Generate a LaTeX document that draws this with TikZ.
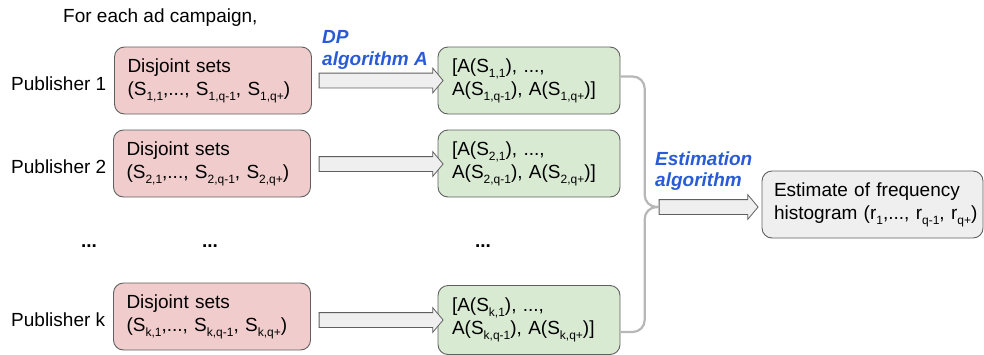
\documentclass[tikz,border=0pt]{standalone}
\usepackage{fontspec}
\setmainfont{Liberation Sans}
\usetikzlibrary{shapes.arrows,calc}
\definecolor{pinkfill}{HTML}{F0CCCC}
\definecolor{greenfill}{HTML}{D9EAD3}
\definecolor{grayfill}{HTML}{EFEFEF}
\definecolor{boxline}{HTML}{5F5F5F}
\definecolor{connline}{HTML}{B7B7B7}
\definecolor{labelblue}{HTML}{2A5BD7}
\newcommand\sbx[1]{\raisebox{-5pt}{\fontsize{12}{12}\selectfont #1}}
\tikzset{
  txt/.style={font=\fontsize{19}{23}\selectfont, inner sep=0pt},
  blue label/.style={txt, anchor=base west, text=labelblue, font=\fontsize{19}{23}\selectfont\bfseries\itshape},
  boxbase/.style={txt, draw=boxline, line width=0.9pt, rounded corners=10pt, align=left, inner xsep=0pt},
  pinkbox/.style={boxbase, fill=pinkfill, minimum width=197pt, minimum height=67pt, text width=171pt},
  greenbox/.style={boxbase, fill=greenfill, minimum width=182pt, minimum height=67pt, text width=154pt},
  graybox/.style={boxbase, fill=grayfill, minimum width=221pt, minimum height=67pt, text width=197pt},
  blockarrow/.style={single arrow, draw=boxline, fill=grayfill, line width=0.8pt, inner xsep=0pt, inner ysep=7pt, single arrow head extend=5pt, single arrow tip angle=100},
  conn/.style={draw=connline, line width=2.2pt, rounded corners=12pt},
  dots/.style={txt, anchor=base, font=\fontsize{19}{23}\selectfont\bfseries},
}
\begin{document}
\begin{tikzpicture}[x=1pt,y=-1pt]
\useasboundingbox (0,0) rectangle (984,354);

\node[txt, anchor=base west] (title) at (63,22) {For each ad campaign,};

% publishers
\node[txt, anchor=base west] (pub1) at (11,90) {Publisher 1};
\node[txt, anchor=base west] (pub2) at (11,173) {Publisher 2};
\node[txt, anchor=base west] (pubk) at (11,326) {Publisher k};

% pink boxes
\node[pinkbox] (p1) at (213,80.5) {Disjoint sets\\(S\sbx{1,1},..., S\sbx{1,q-1}, S\sbx{1,q+})};
\node[pinkbox] (p2) at (212,163.5) {Disjoint sets\\(S\sbx{2,1},..., S\sbx{2,q-1}, S\sbx{2,q+})};
\node[pinkbox] (pk) at (212,316.5) {Disjoint sets\\(S\sbx{k,1},..., S\sbx{k,q-1}, S\sbx{k,q+})};

% green boxes
\node[greenbox] (g1) at (529,80.5) {[A(S\sbx{1,1}), ...,\\A(S\sbx{1,q-1}), A(S\sbx{1,q+})]};
\node[greenbox] (g2) at (529,163.5) {[A(S\sbx{2,1}), ...,\\A(S\sbx{2,q-1}), A(S\sbx{2,q+})]};
\node[greenbox, minimum height=69pt] (gk) at (529,320) {[A(S\sbx{k,1}), ...,\\A(S\sbx{k,q-1}), A(S\sbx{k,q+})]};

% block arrows
\node[blockarrow, minimum height=124pt] (a1) at (378,80.5) {};
\node[blockarrow, minimum height=124pt] (a2) at (378,164) {};
\node[blockarrow, minimum height=124pt] (ak) at (378,320) {};

\node[blue label] (dp1) at (322,43) {DP};
\node[blue label] (dp2) at (322,65) {algorithm A};

% dots
\node[dots] (d1) at (89,247) {...};
\node[dots] (d2) at (210,247) {...};
\node[dots] (d3) at (483,247) {...};

% estimation arrow
\node[blockarrow, minimum height=99pt] (ea) at (705.5,207) {};
\node[blue label] (es1) at (655,165) {Estimation};
\node[blue label] (es2) at (655,186) {algorithm};

% result box
\node[graybox] (res) at (872.5,204.5) {Estimate of frequency\\\mbox{histogram (r\sbx{1},..., r\sbx{q-1}, r\sbx{q+})}};

% connectors
\coordinate (j) at ($(ea.west)+(-14,0)$);
\draw[conn] ($(g1.east)+(0,-4)$) -| (j) -- (ea.west);
\draw[conn] ($(gk.east)+(0,12)$) -| (j) -- (ea.west);
\end{tikzpicture}
\end{document}
